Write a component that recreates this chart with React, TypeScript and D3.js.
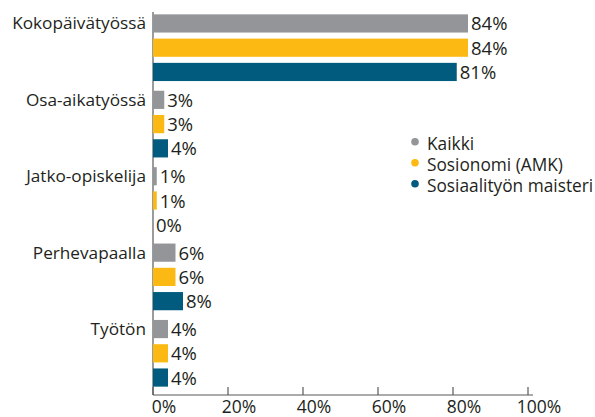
import React from "react";
import * as d3 from "d3";

const categories = ["Kokopäivätyössä", "Osa-aikatyössä", "Jatko-opiskelija", "Perhevapaalla", "Työtön"];
const seriesNames = ["Kaikki", "Sosionomi (AMK)", "Sosiaalityön maisteri"];
const kaikki = [84, 3, 1, 6, 4];
const sosionomi = [84, 3, 1, 6, 4];
const maisteri = [81, 4, 0, 8, 4];
const xTicks = [0, 20, 40, 60, 80, 100];
const colors = ["#939598", "#FDB913", "#005B7F"];

const W = 595;
const H = 417;
const FONT = "'Open Sans', sans-serif";
const TEXT = "#231F20";

export default function App() {
  const series = [kaikki, sosionomi, maisteri];
  const x = d3.scaleLinear().domain([0, 100]).range([153, 528]);
  const y0 = d3.scaleBand<string>().domain(categories).range([9.5, 391.5]).padding(0);
  const y1 = d3
    .scaleBand<string>()
    .domain(seriesNames)
    .range([0, y0.bandwidth()])
    .paddingInner(0.25)
    .paddingOuter(0.2);
  const axisY = 395;

  return (
    <svg width={W} height={H} style={{ position: "absolute", left: 0, top: 0 }} fontFamily={FONT}>
      <rect width={W} height={H} fill="#fff" />
      {/* vertical axis line */}
      <line x1={x(0)} x2={x(0)} y1={12} y2={axisY} stroke="#58595B" strokeWidth={1.2} />
      {categories.map((c, ci) => (
        <g key={c}>
          <text
            x={146}
            y={(y0(c) as number) + (y1(seriesNames[0]) as number) + y1.bandwidth() / 2 + 6}
            textAnchor="end"
            fontSize={17.2}
            fill={TEXT}
          >
            {c}
          </text>
          {seriesNames.map((s, si) => {
            const v = series[si][ci];
            const by = (y0(c) as number) + (y1(s) as number);
            return (
              <g key={s}>
                {v > 0 && (
                  <rect x={x(0)} y={by} width={x(v) - x(0)} height={y1.bandwidth()} fill={colors[si]} />
                )}
                <text
                  x={x(v) + 3}
                  y={by + y1.bandwidth() / 2 + 7}
                  fontSize={18.5}
                  fill={TEXT}
                >
                  {v}%
                </text>
              </g>
            );
          })}
        </g>
      ))}
      {/* x axis */}
      <line x1={x(0)} x2={533} y1={axisY} y2={axisY} stroke="#58595B" strokeWidth={1.2} />
      {xTicks.map((t) => (
        <g key={t}>
          <line x1={x(t)} x2={x(t)} y1={axisY - 8} y2={axisY} stroke="#58595B" strokeWidth={1.2} />
          <text x={x(t) + 11} y={412.5} textAnchor="middle" fontSize={17.5} fill={TEXT}>
            {t}%
          </text>
        </g>
      ))}
      {/* legend */}
      {seriesNames.map((s, i) => (
        <g key={s}>
          <circle cx={415} cy={141.7 + i * 21} r={3.8} fill={colors[i]} />
          <text x={427} y={149.5 + i * 21} fontSize={17.3} fill={TEXT}>
            {s}
          </text>
        </g>
      ))}
    </svg>
  );
}
